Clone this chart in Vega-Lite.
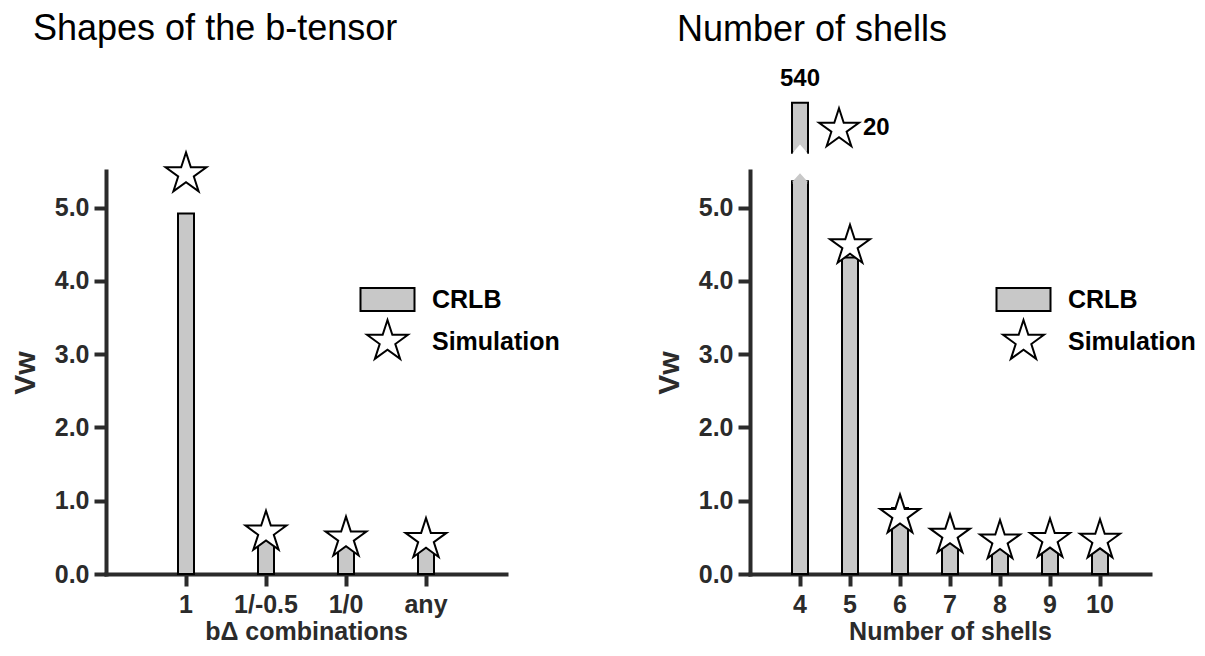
{
  "$schema": "https://vega.github.io/schema/vega-lite/v6.json",
  "padding": {"left": 10, "top": 11, "right": 5, "bottom": 5},
  "spacing": 94,
  "config": {
    "view": {"stroke": null},
    "font": "Liberation Sans",
    "axis": {
      "domainColor": "#2b2b2b", "domainWidth": 4, "domainCap": "square",
      "tickColor": "#2b2b2b", "tickWidth": 4, "tickSize": 12,
      "labelFont": "Liberation Sans", "labelFontWeight": "bold", "labelFontSize": 25, "labelColor": "#2b2b2b",
      "titleFont": "Liberation Sans", "titleFontWeight": "bold", "titleFontSize": 25, "titleColor": "#2b2b2b",
      "grid": false
    },
    "legend": {
      "labelFont": "Liberation Sans", "labelFontWeight": "bold", "labelFontSize": 25, "labelColor": "black",
      "symbolSize": 1849, "symbolStrokeColor": "black", "symbolStrokeWidth": 2, "symbolOpacity": 1, "labelOffset": 22, "rowPadding": 0, "padding": 0
    },
    "title": {"font": "Liberation Sans", "fontSize": 36, "fontWeight": "normal", "color": "black", "anchor": "start", "frame": "group", "dx": -73}
  },
  "resolve": {"scale": {"shape": "independent", "fill": "independent", "stroke": "independent", "y": "independent", "x": "independent"}},
  "hconcat": [
    {
      "width": 400, "height": 403,
      "title": {"text": "Shapes of the b-tensor", "offset": 100},
      "data": {"values": [
        {"combo": "1", "crlb": 4.92, "sim": 5.46},
        {"combo": "1/-0.5", "crlb": 0.55, "sim": 0.57},
        {"combo": "1/0", "crlb": 0.49, "sim": 0.49},
        {"combo": "any", "crlb": 0.5, "sim": 0.47}
      ]},
      "encoding": {
        "x": {"field": "combo", "type": "nominal", "sort": null, "scale": {"paddingInner": 0, "paddingOuter": 0.5},
              "axis": {"labelAngle": 0, "title": "bΔ combinations", "labelPadding": 6, "titlePadding": 2}}
      },
      "layer": [
        {
          "mark": {"type": "bar", "size": 16, "fill": "#c8c8c8", "stroke": "black", "strokeWidth": 2},
          "encoding": {"y": {"field": "crlb", "type": "quantitative", "scale": {"domain": [0, 5.5], "nice": false},
                             "axis": {"values": [0, 1, 2, 3, 4, 5], "format": ".1f", "title": "Vw", "titleFontSize": 30, "titlePadding": 14, "labelPadding": 5}}}
        },
        {
          "mark": {"type": "point", "filled": true, "strokeWidth": 2, "opacity": 1, "size": 1849},
          "encoding": {
            "y": {"field": "sim", "type": "quantitative"},
            "shape": {"datum": "Simulation", "scale": {"domain": ["CRLB", "Simulation"], "range": ["M-1.256,-0.535H1.256V0.535H-1.256Z", "M0,-1L0.2245,-0.309L0.9511,-0.309L0.3633,0.118L0.5878,0.809L0,0.382L-0.5878,0.809L-0.3633,0.118L-0.9511,-0.309L-0.2245,-0.309Z"]},
                      "legend": {"title": null, "orient": "none", "legendX": 259, "legendY": 106}},
            "fill": {"datum": "Simulation", "scale": {"domain": ["CRLB", "Simulation"], "range": ["#c8c8c8", "white"]},
                      "legend": {"title": null, "orient": "none", "legendX": 259, "legendY": 106}},
            "stroke": {"datum": "Simulation", "scale": {"domain": ["CRLB", "Simulation"], "range": ["black", "black"]},
                      "legend": {"title": null, "orient": "none", "legendX": 259, "legendY": 106}}
          }
        }
      ]
    },
    {
      "width": 400, "height": 403,
      "title": {"text": "Number of shells", "offset": 18},
      "data": {"values": [
        {"shells": "4", "crlb": 5.36, "sim": null},
        {"shells": "5", "crlb": 4.32, "sim": 4.48},
        {"shells": "6", "crlb": 0.9, "sim": 0.8},
        {"shells": "7", "crlb": 0.52, "sim": 0.53},
        {"shells": "8", "crlb": 0.47, "sim": 0.45},
        {"shells": "9", "crlb": 0.49, "sim": 0.47},
        {"shells": "10", "crlb": 0.49, "sim": 0.46}
      ]},
      "encoding": {
        "x": {"field": "shells", "type": "nominal", "sort": null, "scale": {"paddingInner": 0, "paddingOuter": 0.5},
              "axis": {"labelAngle": 0, "title": "Number of shells", "labelPadding": 6, "titlePadding": 2}}
      },
      "layer": [
        {
          "mark": {"type": "bar", "size": 16, "fill": "#c8c8c8", "stroke": "black", "strokeWidth": 2},
          "encoding": {"y": {"field": "crlb", "type": "quantitative", "scale": {"domain": [0, 5.5], "nice": false},
                             "axis": {"values": [0, 1, 2, 3, 4, 5], "format": ".1f", "title": "Vw", "titleFontSize": 30, "titlePadding": 14, "labelPadding": 5}}}
        },
        {
          "data": {"values": [{"shells": "4", "lo": 5.75, "hi": 6.43}]},
          "mark": {"type": "bar", "size": 16, "fill": "#c8c8c8", "stroke": "black", "strokeWidth": 2},
          "encoding": {"y": {"field": "lo", "type": "quantitative"}, "y2": {"field": "hi"}}
        },
        {
          "data": {"values": [{"shells": "4", "v": 5.36}]},
          "mark": {"type": "point", "filled": true, "fill": "#c8c8c8", "strokeWidth": 0, "opacity": 1, "size": 324, "shape": "M-0.8,0.3L-0.8,0L0,-0.9L0.8,0L0.8,0.3Z"},
          "encoding": {"y": {"field": "v", "type": "quantitative"}}
        },
        {
          "data": {"values": [{"shells": "4", "v": 5.86}]},
          "mark": {"type": "point", "filled": true, "fill": "white", "strokeWidth": 0, "opacity": 1, "size": 324, "shape": "M-0.8,1.2L-0.8,0.9L0,0L0.8,0.9L0.8,1.2Z"},
          "encoding": {"y": {"field": "v", "type": "quantitative"}}
        },
        {
          "mark": {"type": "point", "filled": true, "strokeWidth": 2, "opacity": 1, "size": 1764},
          "encoding": {
            "y": {"field": "sim", "type": "quantitative"},
            "shape": {"datum": "Simulation", "scale": {"domain": ["CRLB", "Simulation"], "range": ["M-1.256,-0.535H1.256V0.535H-1.256Z", "M0,-1L0.2245,-0.309L0.9511,-0.309L0.3633,0.118L0.5878,0.809L0,0.382L-0.5878,0.809L-0.3633,0.118L-0.9511,-0.309L-0.2245,-0.309Z"]},
                      "legend": {"title": null, "orient": "none", "legendX": 251, "legendY": 106}},
            "fill": {"datum": "Simulation", "scale": {"domain": ["CRLB", "Simulation"], "range": ["#c8c8c8", "white"]},
                      "legend": {"title": null, "orient": "none", "legendX": 251, "legendY": 106}},
            "stroke": {"datum": "Simulation", "scale": {"domain": ["CRLB", "Simulation"], "range": ["black", "black"]},
                      "legend": {"title": null, "orient": "none", "legendX": 251, "legendY": 106}}
          }
        },
        {
          "data": {"values": [{"shells": "4", "v": 6.07, "label": "20"}]},
          "mark": {"type": "point", "filled": true, "fill": "white", "stroke": "black", "strokeWidth": 2, "opacity": 1, "size": 1764,
                   "shape": "M0,-1L0.2245,-0.309L0.9511,-0.309L0.3633,0.118L0.5878,0.809L0,0.382L-0.5878,0.809L-0.3633,0.118L-0.9511,-0.309L-0.2245,-0.309Z"},
          "encoding": {"y": {"field": "v", "type": "quantitative"}, "xOffset": {"value": 64}}
        },
        {
          "data": {"values": [{"shells": "4", "v": 6.09, "label": "20"}]},
          "mark": {"type": "text", "align": "left", "baseline": "middle", "dx": 63, "font": "Liberation Sans", "fontWeight": "bold", "fontSize": 24, "color": "black"},
          "encoding": {"y": {"field": "v", "type": "quantitative"}, "text": {"field": "label"}}
        },
        {
          "data": {"values": [{"shells": "4", "v": 6.76, "label": "540"}]},
          "mark": {"type": "text", "align": "center", "baseline": "middle", "font": "Liberation Sans", "fontWeight": "bold", "fontSize": 24, "color": "black"},
          "encoding": {"y": {"field": "v", "type": "quantitative"}, "text": {"field": "label"}}
        }
      ]
    }
  ]
}
